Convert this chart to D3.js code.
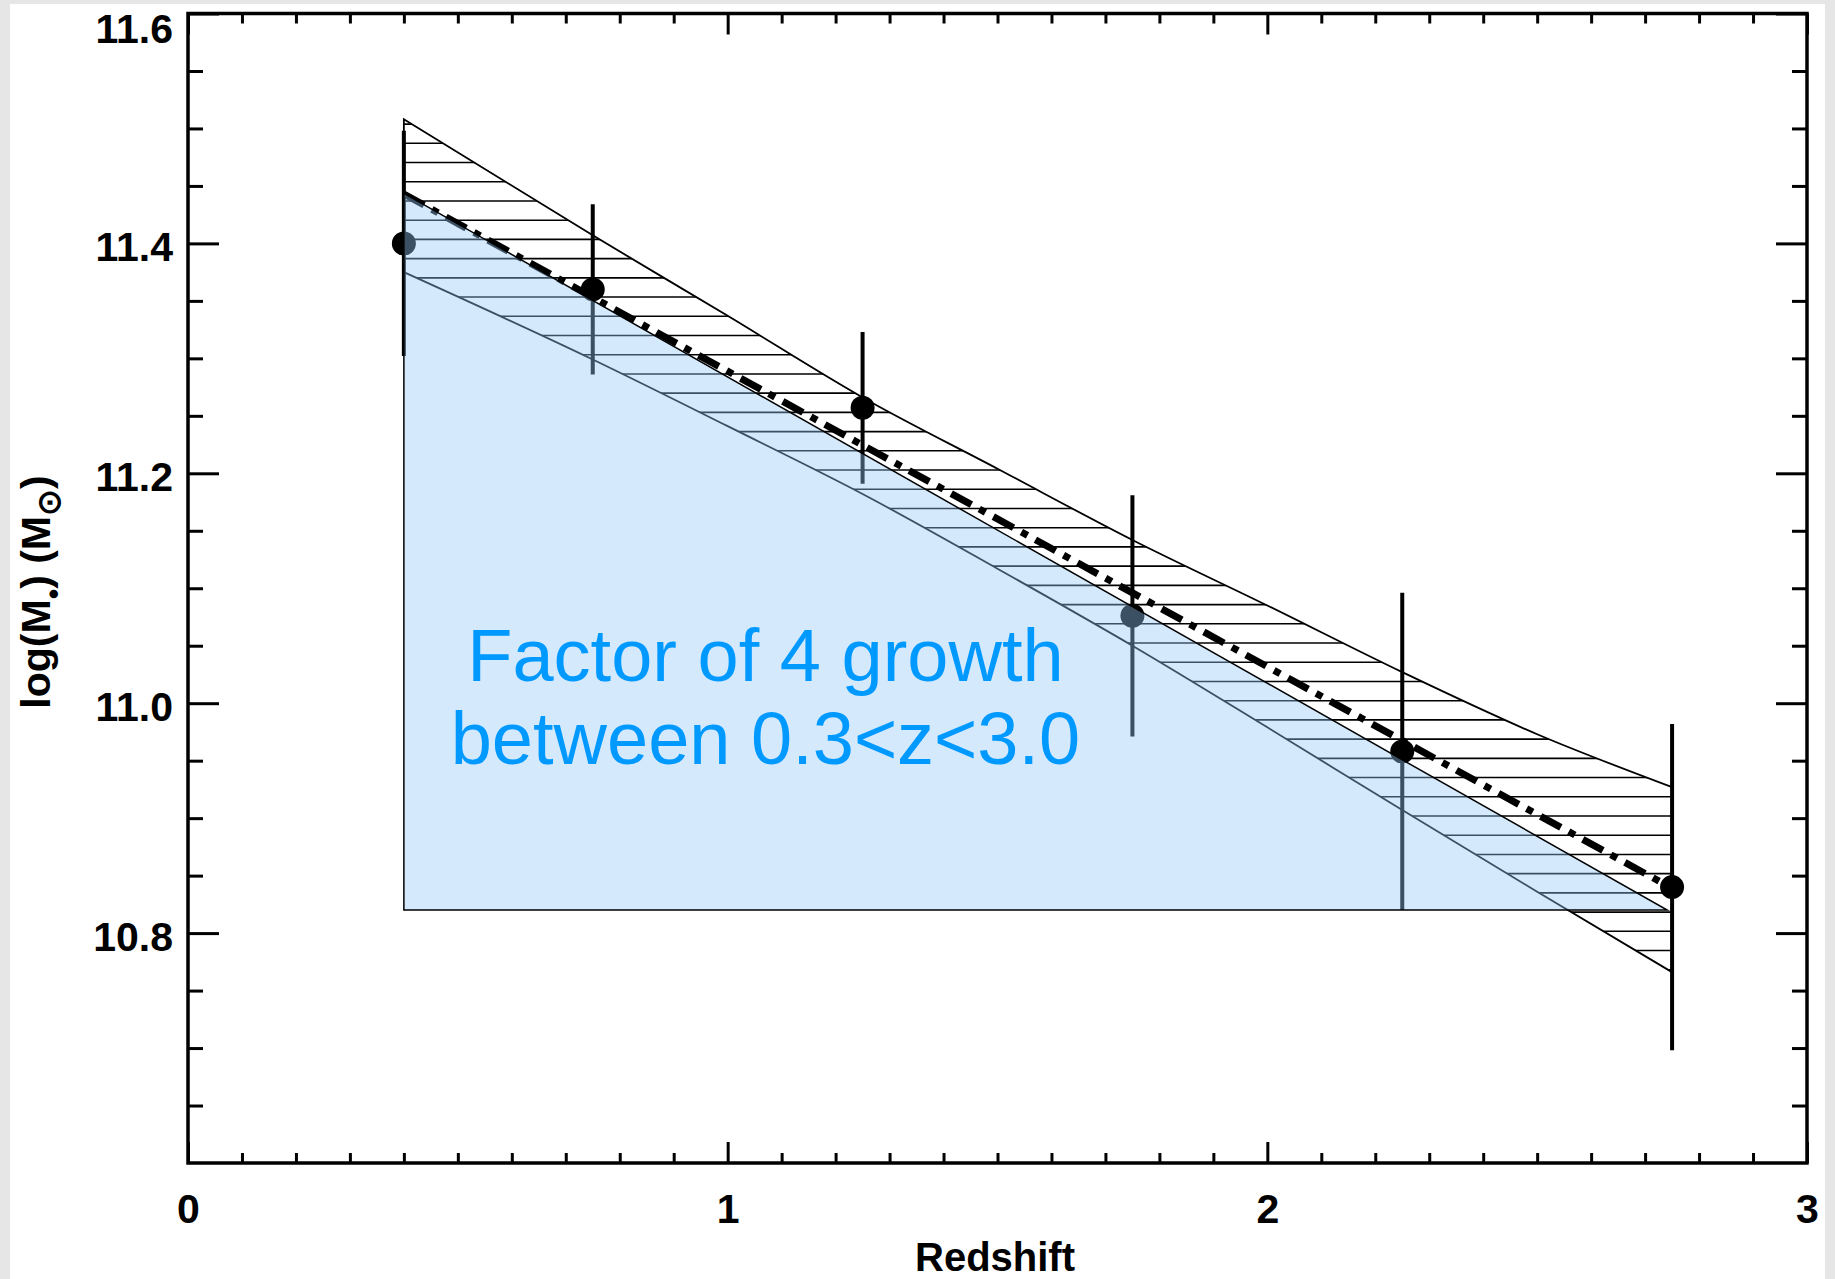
<!DOCTYPE html>
<html>
<head>
<meta charset="utf-8">
<style>
  body { margin: 0; background: #e6e6e6; }
  svg { display: block; }
  text { font-family: "Liberation Sans", Arial, sans-serif; }
</style>
</head>
<body>
<div id="wrapper"></div>
<script src="https://cdn.jsdelivr.net/npm/d3@7"></script>
<script>
// measured points: redshift bin, log stellar mass and error
const redshift = [0.4, 0.75, 1.25, 1.75, 2.25, 2.75]
const logMass = [11.40, 11.36, 11.257, 11.076, 10.958, 10.84]
const massErr = [0.098, 0.074, 0.066, 0.105, 0.138, 0.142]

// dash-dot fit line
const fitZ = [0.4, 2.75]
const fitMass = [11.443, 10.839]

// hatched band around the fit
const bandZ = [0.4, 0.75, 1.0, 1.25, 1.5, 1.75, 2.0, 2.25, 2.5, 2.75]
const bandUpper = [11.508, 11.407, 11.337, 11.266, 11.204, 11.142, 11.085, 11.027, 10.973, 10.927]
const bandLower = [11.375, 11.299, 11.241, 11.182, 11.117, 11.050, 10.979, 10.907, 10.836, 10.766]

// shaded growth triangle
const shadeZ = [0.4, 2.741, 0.4]
const shadeMass = [11.4436, 10.82, 10.82]

// tick labels
const xTicks = [0, 1, 2, 3]
const yTicks = [10.8, 11.0, 11.2, 11.4, 11.6]

// annotation
const noteLines = ["Factor of 4 growth", "between 0.3<z<3.0"]
const noteZ = 1.07
const noteMass = [11.019, 10.947]

function drawChart() {

  let dimensions = {
    width: 1835,
    height: 1279,
    margin: {
      top: 13.5,
      right: 28,
      bottom: 116,
      left: 188
    }
  }
  dimensions.boundedWidth = dimensions.width
    - dimensions.margin.left
    - dimensions.margin.right
  dimensions.boundedHeight = dimensions.height
    - dimensions.margin.top
    - dimensions.margin.bottom

  const wrapper = d3.select("#wrapper")
    .append("svg")
      .attr("width", dimensions.width)
      .attr("height", dimensions.height)

  // grey page edge, white panel
  wrapper.append("rect")
      .attr("width", dimensions.width)
      .attr("height", dimensions.height)
      .attr("fill", "#e6e6e6")
  wrapper.append("rect")
      .attr("x", 10)
      .attr("y", 4)
      .attr("width", 1815)
      .attr("height", dimensions.height - 4)
      .attr("fill", "white")

  const bounds = wrapper.append("g")
      .attr("transform", `translate(${dimensions.margin.left}, ${dimensions.margin.top})`)

  // scales
  const xScale = d3.scaleLinear()
      .domain([0, 3])
      .range([0, dimensions.boundedWidth])

  const yScale = d3.scaleLinear()
      .domain([10.6, 11.6])
      .range([dimensions.boundedHeight, 0])

  // hatched band
  const bandData = bandZ.map((z, i) => ({ z, up: bandUpper[i], lo: bandLower[i] }))
  const bandArea = d3.area()
      .x(d => xScale(d.z))
      .y0(d => yScale(d.lo))
      .y1(d => yScale(d.up))
      .curve(d3.curveMonotoneX)

  bounds.append("clipPath")
      .attr("id", "band-clip")
    .append("path")
      .attr("d", bandArea(bandData))

  // horizontal hatch lines, ~19px apart
  const hatchYs = d3.range(129.8 - 19.22 * 2, dimensions.boundedHeight, 19.22)
  bounds.append("g")
      .attr("clip-path", "url(#band-clip)")
    .selectAll("line")
      .data(hatchYs)
    .enter().append("line")
      .attr("x1", xScale(0.3))
      .attr("x2", xScale(2.9))
      .attr("y1", d => d)
      .attr("y2", d => d)
      .attr("stroke", "black")
      .attr("stroke-width", 1.6)

  bounds.append("path")
      .attr("d", bandArea(bandData))
      .attr("fill", "none")
      .attr("stroke", "black")
      .attr("stroke-width", 1.8)

  // dash-dot fit
  const fitLine = d3.line()
      .x((d, i) => xScale(fitZ[i]))
      .y(d => yScale(d))
  bounds.append("path")
      .attr("d", fitLine(fitMass))
      .attr("fill", "none")
      .attr("stroke", "black")
      .attr("stroke-width", 7)
      .attr("stroke-dasharray", "23,9,7,9")

  // error bars and points
  bounds.selectAll(".err")
      .data(redshift)
    .enter().append("line")
      .attr("class", "err")
      .attr("x1", d => xScale(d))
      .attr("x2", d => xScale(d))
      .attr("y1", (d, i) => yScale(logMass[i] + massErr[i]))
      .attr("y2", (d, i) => yScale(logMass[i] - massErr[i]))
      .attr("stroke", "black")
      .attr("stroke-width", 4)

  bounds.selectAll(".dot")
      .data(redshift)
    .enter().append("circle")
      .attr("class", "dot")
      .attr("cx", d => xScale(d))
      .attr("cy", (d, i) => yScale(logMass[i]))
      .attr("r", 12)
      .attr("fill", "black")

  // translucent blue triangle over everything
  const shadeLine = d3.line()
      .x((d, i) => xScale(shadeZ[i]))
      .y(d => yScale(d))
  bounds.append("path")
      .attr("d", shadeLine(shadeMass) + "Z")
      .attr("fill", "rgb(150,200,250)")
      .attr("fill-opacity", 0.4)
      .attr("stroke", "black")
      .attr("stroke-width", 1.5)

  // annotation
  bounds.selectAll(".note")
      .data(noteLines)
    .enter().append("text")
      .attr("class", "note")
      .attr("x", xScale(noteZ))
      .attr("y", (d, i) => yScale(noteMass[i]))
      .attr("text-anchor", "middle")
      .attr("fill", "#0099ff")
      .style("font-size", "74px")
      .text(d => d)

  // axes: major and minor ticks on all four sides
  const xMinor = d3.range(1, 30).filter(d => d % 10 != 0).map(d => d / 10)
  const yMinor = d3.range(1, 20).filter(d => d % 4 != 0).map(d => 10.6 + d * 0.05)

  const styleAxis = g => {
    g.select(".domain").remove()
    g.selectAll(".tick line").attr("stroke-width", 3)
    g.selectAll("text")
      .attr("fill", "black")
      .style("font-size", "41px")
      .style("font-weight", "bold")
      .style("font-family", "'Liberation Sans', Arial, sans-serif")
  }

  const xAxis = bounds.append("g")
      .attr("transform", `translate(0, ${dimensions.boundedHeight})`)
      .call(d3.axisBottom(xScale)
        .tickValues(xTicks)
        .tickSizeInner(-21)
        .tickSizeOuter(0)
        .tickFormat(d3.format("d")))
      .call(styleAxis)
  xAxis.selectAll("text")
      .attr("y", 60)
      .attr("dy", null)

  bounds.append("g")
      .attr("transform", `translate(0, ${dimensions.boundedHeight})`)
      .call(d3.axisBottom(xScale).tickValues(xMinor).tickSizeInner(-10).tickSizeOuter(0).tickFormat(""))
      .call(styleAxis)

  bounds.append("g")
      .call(d3.axisTop(xScale).tickValues(xTicks).tickSizeInner(-21).tickSizeOuter(0).tickFormat(""))
      .call(styleAxis)
  bounds.append("g")
      .call(d3.axisTop(xScale).tickValues(xMinor).tickSizeInner(-10).tickSizeOuter(0).tickFormat(""))
      .call(styleAxis)

  const yAxis = bounds.append("g")
      .call(d3.axisLeft(yScale)
        .tickValues(yTicks)
        .tickSizeInner(-31)
        .tickSizeOuter(0)
        .tickPadding(15)
        .tickFormat(d3.format(".1f")))
      .call(styleAxis)
  yAxis.selectAll("text")
      .attr("dy", d => d == 11.6 ? "0.7em" : "0.42em")

  bounds.append("g")
      .call(d3.axisLeft(yScale).tickValues(yMinor).tickSizeInner(-15).tickSizeOuter(0).tickFormat(""))
      .call(styleAxis)

  bounds.append("g")
      .attr("transform", `translate(${dimensions.boundedWidth}, 0)`)
      .call(d3.axisRight(yScale).tickValues(yTicks).tickSizeInner(-31).tickSizeOuter(0).tickFormat(""))
      .call(styleAxis)
  bounds.append("g")
      .attr("transform", `translate(${dimensions.boundedWidth}, 0)`)
      .call(d3.axisRight(yScale).tickValues(yMinor).tickSizeInner(-15).tickSizeOuter(0).tickFormat(""))
      .call(styleAxis)

  // frame
  bounds.append("rect")
      .attr("width", dimensions.boundedWidth)
      .attr("height", dimensions.boundedHeight)
      .attr("fill", "none")
      .attr("stroke", "black")
      .attr("stroke-width", 3.5)

  // axis titles
  wrapper.append("text")
      .attr("x", 995)
      .attr("y", 1271)
      .attr("text-anchor", "middle")
      .style("font-size", "40px")
      .style("font-weight", "bold")
      .text("Redshift")

  const yLabel = wrapper.append("text")
      .attr("transform", "translate(50, 592) rotate(-90)")
      .attr("text-anchor", "middle")
      .style("font-size", "41px")
      .style("font-weight", "bold")
  yLabel.append("tspan").text("log(M")
  yLabel.append("tspan").attr("dy", 14).style("font-size", "30px").text("\u2022")
  yLabel.append("tspan").attr("dy", -14).text(")  (M")
  yLabel.append("tspan").attr("dy", 10).style("font-size", "32px").text("\u2299")
  yLabel.append("tspan").attr("dy", -10).text(")")
}
drawChart()
</script>
</body>
</html>
